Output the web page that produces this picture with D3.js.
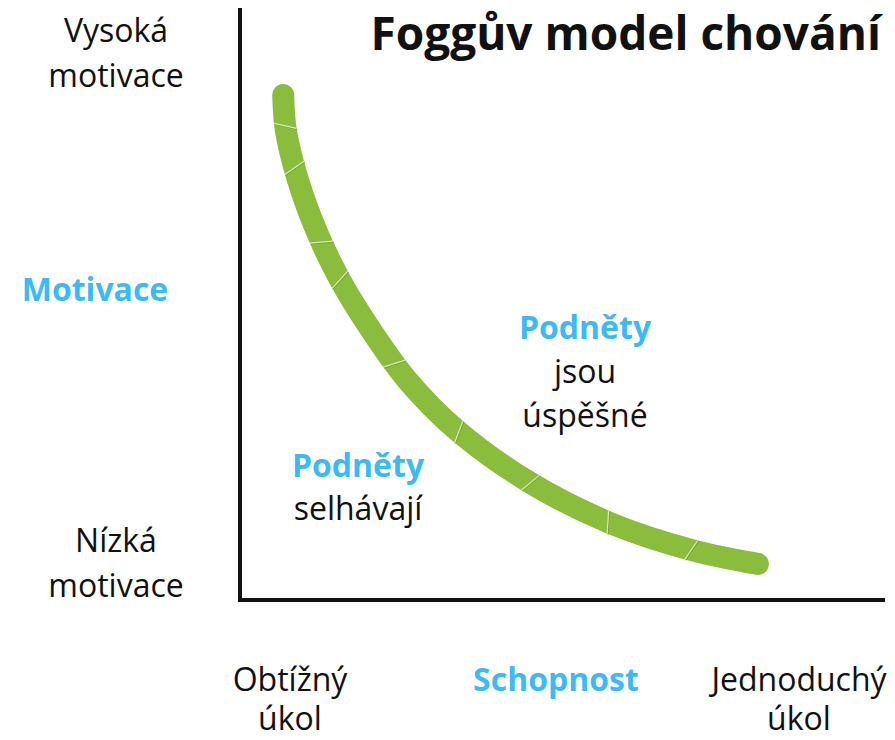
<!DOCTYPE html>
<html>
<head>
<meta charset="utf-8">
<script src="https://cdn.jsdelivr.net/npm/d3@7"></script>
<style>
  body { margin: 0; background: #fff; }
  svg { display: block; font-family: "Open Sans", sans-serif; }
</style>
</head>
<body>
<div id="chart"></div>
<script>
// curve of the behaviour model (ability 0..10, motivation 0..10)
const curveX = [0.67, 0.71, 0.90, 1.18, 1.55, 2.05, 2.59, 3.36, 4.50, 5.74, 7.02, 8.03];
const curveY = [8.53, 7.94, 7.09, 6.25, 5.41, 4.53, 3.72, 2.87, 1.98, 1.30, 0.84, 0.61];

// little cut marks along the curve
const markX = [0.73, 0.87, 1.26, 1.52, 2.40, 3.38, 4.51, 5.71, 7.01];
const markY = [8.01, 7.30, 6.05, 5.39, 3.99, 2.82, 1.98, 1.32, 0.88];

const title = "Foggův model chování";
const yLabels = [["Vysoká", "motivace"], ["Nízká", "motivace"]];
const xLabels = [["Obtížný", "úkol"], ["Jednoduchý", "úkol"]];

const width = 895, height = 740;
const green = "#8abd3c",
      blue = "#3dbaf5",
      ink = "#111";

const svg = d3.select("#chart")
  .append("svg")
  .attr("width", width)
  .attr("height", height);

const x = d3.scaleLinear().domain([0, 10]).range([240, 885]);
const y = d3.scaleLinear().domain([0, 10]).range([600, 8]);

// axes (plain lines, no ticks)
svg.append("line")
  .attr("x1", x(0)).attr("x2", x(0))
  .attr("y1", y(10)).attr("y2", y(0) + 2)
  .attr("stroke", ink).attr("stroke-width", 4);
svg.append("line")
  .attr("x1", x(0) - 2).attr("x2", x(10))
  .attr("y1", y(0)).attr("y2", y(0))
  .attr("stroke", ink).attr("stroke-width", 4);

// the curve
const pts = curveX.map((v, i) => [x(v), y(curveY[i])]);
const path = svg.append("path")
  .attr("d", d3.line().curve(d3.curveCatmullRom.alpha(0.5))(pts))
  .attr("fill", "none")
  .attr("stroke", green)
  .attr("stroke-width", 22)
  .attr("stroke-linecap", "round");

// cut marks: find nearest point on path, draw across it
const node = path.node();
const total = node.getTotalLength();
markX.forEach((v, i) => {
  const px = x(v), py = y(markY[i]);
  let best = 0, bestD = Infinity;
  for (let l = 0; l <= total; l += 1) {
    const p = node.getPointAtLength(l);
    const d = (p.x - px) ** 2 + (p.y - py) ** 2;
    if (d < bestD) { bestD = d; best = l; }
  }
  const a = node.getPointAtLength(Math.max(0, best - 2));
  const b = node.getPointAtLength(Math.min(total, best + 2));
  const c = node.getPointAtLength(best);
  let dx = b.x - a.x, dy = b.y - a.y;
  const len = Math.hypot(dx, dy);
  dx /= len; dy /= len;
  // slightly skewed, like the hand cut marks
  const sk = i % 2 ? 0.35 : -0.35;
  const nx = -dy + dx * sk, ny = dx + dy * sk;
  const h = 11;
  svg.append("line")
    .attr("x1", c.x - nx * h + 0.8).attr("y1", c.y - ny * h + 0.8)
    .attr("x2", c.x + nx * h + 0.8).attr("y2", c.y + ny * h + 0.8)
    .attr("stroke", "#6f9a2e")
    .attr("stroke-width", 1);
  svg.append("line")
    .attr("x1", c.x - nx * h).attr("y1", c.y - ny * h)
    .attr("x2", c.x + nx * h).attr("y2", c.y + ny * h)
    .attr("stroke", "#d8ebbd")
    .attr("stroke-width", 1.2);
});

// title
svg.append("text")
  .attr("x", 881).attr("y", 50)
  .attr("text-anchor", "end")
  .attr("font-size", 46)
  .attr("font-weight", 700)
  .attr("fill", ink)
  .text(title);

function block(lines, cx, y0, gap, opts) {
  const t = svg.append("text")
    .attr("text-anchor", "middle")
    .attr("font-size", 32)
    .attr("fill", ink);
  lines.forEach((s, i) => {
    const bold = opts && opts.bold && opts.bold[i];
    t.append("tspan")
      .attr("x", cx)
      .attr("y", y0 + i * gap)
      .attr("font-weight", bold ? 700 : 400)
      .attr("fill", bold ? blue : ink)
      .text(s);
  });
}

block(yLabels[0], 116, 42, 45);
block(yLabels[1], 116, 552, 45);
block(["Motivace"], 95, 301, 0, {bold: [true]});

block(xLabels[0], 290, 691, 39);
block(xLabels[1], 799, 691, 39);
block(["Schopnost"], 556, 691, 0, {bold: [true]});

block(["Podněty", "jsou", "úspěšné"], 585, 339, 44, {bold: [true, false, false]});
block(["Podněty", "selhávají"], 358, 477, 43, {bold: [true, false]});
</script>
</body>
</html>
